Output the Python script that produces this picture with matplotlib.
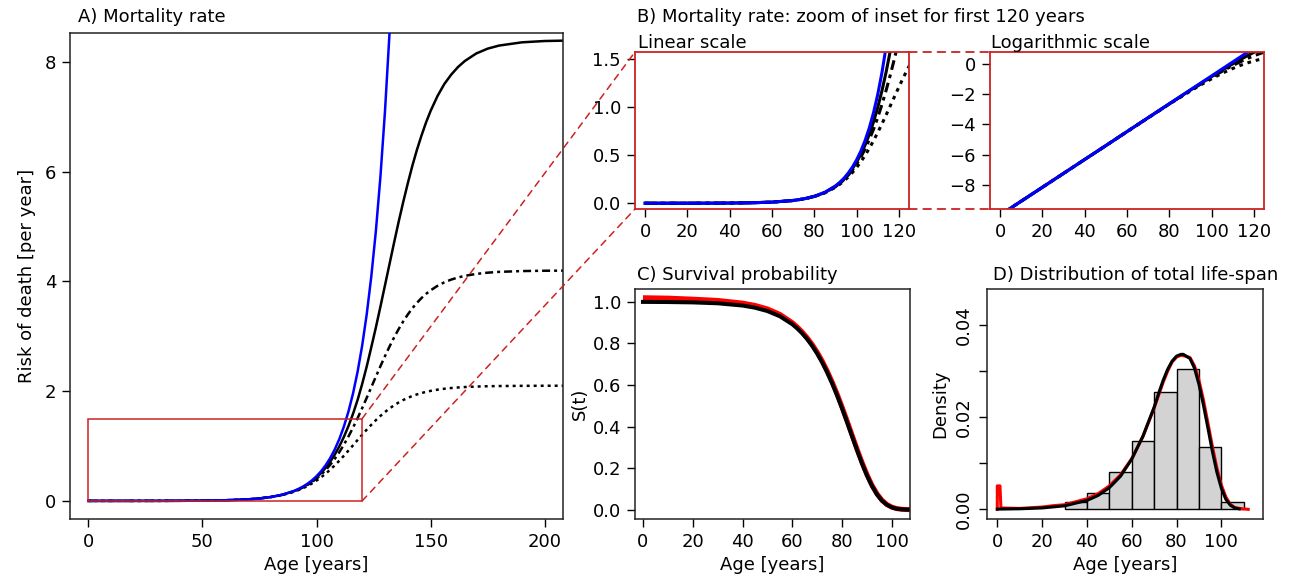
import numpy as np
import matplotlib
matplotlib.use("Agg")
import matplotlib.pyplot as plt
from matplotlib.patches import Rectangle, ConnectionPatch

plt.rcParams['font.family'] = ['DejaVu Sans']
plt.rcParams['font.size'] = 13

# ---------------- data ----------------
ages = [0, 10, 20, 30, 40, 50, 60, 70, 75, 80, 85,
        90, 92, 94, 96, 98, 100, 102, 104, 106, 108, 110, 112, 114, 116, 118,
        120, 122, 124, 126, 128, 130, 132, 134, 136, 138, 140, 142, 144, 146,
        148, 150, 153, 156, 159, 162, 165, 170, 175, 180, 190, 200, 210]

ages_gompertz = [0, 10, 20, 30, 40, 50, 60, 70, 75, 80, 85,
                 90, 92, 94, 96, 98, 100, 102, 104, 106, 108, 110, 112, 114,
                 116, 118, 120, 122, 124, 126, 128, 130, 132, 134]
mu_gompertz = [0.0000454, 0.000114, 0.000285, 0.000714, 0.00179, 0.00448,
               0.0113, 0.0284, 0.0450, 0.0714, 0.1130,
               0.1791, 0.2153, 0.2587, 0.3110, 0.3738, 0.4493, 0.5401, 0.6492,
               0.7804, 0.9380, 1.1275, 1.3553, 1.6291, 1.9582, 2.3537, 2.8292,
               3.4008, 4.0877, 4.9134, 5.906, 7.099, 8.533, 10.257]

mu_plateau_high = [0.0000454, 0.000114, 0.000285, 0.000714, 0.00179, 0.00448,
                   0.0113, 0.0283, 0.0448, 0.0708, 0.1115,
                   0.1754, 0.2099, 0.2510, 0.2999, 0.3579, 0.4265, 0.5075,
                   0.6026, 0.7141, 0.8438, 0.9941, 1.167, 1.3645, 1.588, 1.84,
                   2.13, 2.45, 2.8, 3.16, 3.54, 3.93, 4.32, 4.71, 5.09, 5.45,
                   5.79, 6.11, 6.4, 6.66, 6.9, 7.11,
                   7.38, 7.6, 7.77, 7.91, 8.02, 8.157, 8.245, 8.301, 8.36,
                   8.384, 8.392]

mu_plateau_mid = [0.0000454, 0.000114, 0.000285, 0.000714, 0.00179, 0.00447,
                  0.0113, 0.0282, 0.0445, 0.0702, 0.1100,
                  0.1718, 0.2048, 0.2437, 0.2896, 0.3433, 0.4059, 0.4786,
                  0.5623, 0.6581, 0.7668, 0.8889, 1.0247, 1.1738, 1.3356,
                  1.5084, 1.6905, 1.8792, 2.0715, 2.2644, 2.4545, 2.6388,
                  2.8146, 2.9798, 3.1328, 3.2726, 3.3985, 3.5112, 3.6108,
                  3.698, 3.7738, 3.8393,
                  3.9204, 3.9844, 4.0344, 4.0731, 4.103, 4.1383, 4.1608,
                  4.1752, 4.19, 4.196, 4.198]

mu_plateau_low = [0.0000454, 0.000114, 0.000285, 0.000714, 0.00179, 0.00447,
                  0.0112, 0.0280, 0.0440, 0.0691, 0.1072,
                  0.1650, 0.1953, 0.2303, 0.2709, 0.3173, 0.3701, 0.4296,
                  0.4959, 0.5690, 0.6484, 0.7336, 0.8237, 0.9174, 1.0133,
                  1.1098, 1.2053, 1.2983, 1.3873, 1.4712, 1.5491, 1.6206,
                  1.6853, 1.7431, 1.7943, 1.8393, 1.8785, 1.9124, 1.9416,
                  1.9665, 1.9878, 2.0058,
                  2.0277, 2.0447, 2.0578, 2.0678, 2.0755, 2.0844, 2.0902,
                  2.0938, 2.0975, 2.099, 2.0995]

surv_ages = [0, 10, 20, 30, 40, 45, 50, 55,
             60, 62, 64, 66, 68, 70, 72, 74, 76, 78, 80, 82, 84, 86, 88, 90,
             92, 94, 96, 98, 100, 102, 104, 106, 108]
surv_model = [1.0, 0.9993, 0.9976, 0.9933, 0.9824, 0.9721, 0.9559, 0.9308,
              0.8924, 0.8721, 0.8482, 0.8204, 0.7881, 0.7510, 0.7088, 0.6611,
              0.6081, 0.5499, 0.4872, 0.4213, 0.3538, 0.2868, 0.2228, 0.1645,
              0.1142, 0.0737, 0.0435, 0.0231, 0.0108, 0.0043, 0.0014, 0.0004,
              0.0001]
surv_empirical = [1.02, 1.018, 1.013, 1.007, 0.994, 0.983, 0.966, 0.94,
                  0.900, 0.879, 0.855, 0.827, 0.795, 0.758, 0.716, 0.668,
                  0.615, 0.557, 0.494, 0.428, 0.360, 0.292, 0.228, 0.169,
                  0.118, 0.077, 0.046, 0.025, 0.012, 0.005, 0.0018, 0.0005,
                  0.0001]

hist_edges = [30, 40, 50, 60, 70, 80, 90, 100, 110]
hist_density = [0.0017, 0.0035, 0.0082, 0.0149, 0.0254, 0.0304, 0.0135, 0.0017]

dens_ages = [0, 10, 20, 30, 40, 45, 50, 55, 60, 65, 70, 72, 74, 76, 78, 80,
             82, 83, 84, 86, 88, 90, 92, 94, 96, 98, 100, 102, 104, 106, 108]
dens_model = [0.00005, 0.00012, 0.0003, 0.00076, 0.00193, 0.00302, 0.0047,
              0.0072, 0.0109, 0.0159, 0.0222, 0.0252, 0.0280, 0.0304, 0.0322,
              0.0333, 0.0337, 0.0337, 0.0334, 0.0328, 0.0307, 0.0272, 0.0227,
              0.0177, 0.0126, 0.0081, 0.0046, 0.0022, 0.0009, 0.0003, 0.0001]

emp_ages = [0, 0, 1.2, 1.6, 10, 20, 25, 30, 40, 45, 50, 55, 60, 65, 70, 72,
            74, 76, 78, 80, 82, 84, 86, 88, 90, 92, 94, 96, 98, 100, 102, 104,
            106, 108, 110, 112]
emp_density = [0.0, 0.0051, 0.0051, 0.0003, 0.0002, 0.0005, 0.0008, 0.0010,
               0.0023, 0.0034, 0.0051, 0.0075, 0.0110, 0.0158, 0.0220, 0.0248,
               0.0276, 0.0300, 0.0320, 0.0331, 0.0335, 0.0333, 0.0330, 0.0312,
               0.0281, 0.0238, 0.0188, 0.0137, 0.0090, 0.0053, 0.0027, 0.0011,
               0.0004, 0.0002, 0.0001, 0.0]

# ---------------- layout ----------------
W, H = 1295, 576
fig = plt.figure(figsize=(W / 100, H / 100), dpi=100)

def box(l, r, t, b):
    return [l / W, 1 - b / H, (r - l) / W, (b - t) / H]

RED = '#CC2222'
BLUE = '#0000FF'
DOT = (0, (1.2, 1.6))
DASHDOT = (0, (3.2, 1.6, 1.2, 1.6))

axA = fig.add_axes(box(70, 563, 33, 519))
axL = fig.add_axes(box(635, 909, 52, 209))
axG = fig.add_axes(box(990, 1264, 52, 209))
axC = fig.add_axes(box(635, 910, 289, 519))
axD = fig.add_axes(box(987, 1263, 289, 519))

for ax in (axA, axL, axG, axC, axD):
    ax.tick_params(direction='out', length=6, width=1, pad=4, labelsize=13)
    for s in ax.spines.values():
        s.set_linewidth(1.1)
        s.set_color('#222222')

# ---------------- A ----------------
lwA = 1.8
axA.plot(ages_gompertz, mu_gompertz, color=BLUE, lw=lwA, zorder=4)
axA.plot(ages, mu_plateau_high, color='black', lw=lwA)
axA.plot(ages, mu_plateau_mid, color='black', lw=lwA, linestyle=DASHDOT)
axA.plot(ages, mu_plateau_low, color='black', lw=lwA, linestyle=DOT)
axA.add_patch(Rectangle((0, 0), 120, 1.5, fill=False, edgecolor=RED, lw=1.1, zorder=5))
axA.set_xlim(-8, 208)
axA.set_ylim(-0.33, 8.53)
axA.set_xticks([0, 50, 100, 150, 200])
axA.set_yticks([0, 2, 4, 6, 8])
axA.set_xlabel('Age [years]', fontsize=13, labelpad=4)
axA.set_ylabel('Risk of death [per year]', fontsize=13, labelpad=6)

# ---------------- B linear ----------------
lwB = 2.2
axL.plot(ages, mu_plateau_low, color='black', lw=lwB, linestyle=DOT)
axL.plot(ages, mu_plateau_mid, color='black', lw=lwB, linestyle=DASHDOT)
axL.plot(ages, mu_plateau_high, color='black', lw=lwB)
axL.plot(ages_gompertz, mu_gompertz, color=BLUE, lw=lwB)
axL.set_xlim(-4.8, 124.8)
axL.set_ylim(-0.06, 1.57)
axL.set_xticks([0, 20, 40, 60, 80, 100, 120])
axL.set_yticks([0.0, 0.5, 1.0, 1.5])
axL.set_yticklabels(['0.0', '0.5', '1.0', '1.5'])

# ---------------- B log ----------------
axG.plot(ages, np.log(mu_plateau_low), color='black', lw=lwB, linestyle=DOT)
axG.plot(ages, np.log(mu_plateau_mid), color='black', lw=lwB, linestyle=DASHDOT)
axG.plot(ages, np.log(mu_plateau_high), color='black', lw=lwB)
axG.plot(ages_gompertz, np.log(mu_gompertz), color=BLUE, lw=lwB)
axG.set_xlim(-4.8, 124.8)
axG.set_ylim(-9.6, 0.78)
axG.set_xticks([0, 20, 40, 60, 80, 100, 120])
axG.set_yticks([0, -2, -4, -6, -8])

for ax in (axL, axG):
    for s in ax.spines.values():
        s.set_color(RED)
        s.set_linewidth(1.3)

# ---------------- C ----------------
axC.plot(surv_ages, surv_empirical, color='red', lw=3.6, solid_capstyle='butt')
axC.plot(surv_ages, surv_model, color='black', lw=2.9)
axC.set_xlim(-3.2, 107.3)
axC.set_ylim(-0.045, 1.062)
axC.set_xticks([0, 20, 40, 60, 80, 100])
axC.set_yticks([0.0, 0.2, 0.4, 0.6, 0.8, 1.0])
axC.set_yticklabels(['0.0', '0.2', '0.4', '0.6', '0.8', '1.0'])
axC.set_xlabel('Age [years]', fontsize=13, labelpad=4)
axC.set_ylabel('S(t)', fontsize=13, labelpad=3)

# ---------------- D ----------------
widths = np.diff(hist_edges)
axD.bar(hist_edges[:-1], hist_density, width=widths, align='edge',
        color='#D3D3D3', edgecolor='black', linewidth=1.0)
axD.plot(emp_ages, emp_density, color='red', lw=2.2)
axD.plot(dens_ages, dens_model, color='black', lw=2.2)
axD.set_xlim(-4.6, 118.6)
axD.set_ylim(-0.0021, 0.0479)
axD.set_xticks([0, 20, 40, 60, 80, 100])
axD.set_yticks([0.0, 0.01, 0.02, 0.03, 0.04])
axD.set_yticklabels(['0.00', '', '0.02', '', '0.04'], rotation=90, va='center')
axD.set_xlabel('Age [years]', fontsize=13, labelpad=4)
axD.set_ylabel('Density', fontsize=13, labelpad=4)

# ---------------- connection lines ----------------
dash = (0, (4.3, 3.6))
for xyA, xyB in (((120, 1.5), (0, 1)), ((120, 0), (0, 0))):
    cp = ConnectionPatch(xyA=xyA, coordsA=axA.transData, xyB=xyB,
                         coordsB=axL.transAxes, color=RED, lw=1.1,
                         linestyle=dash)
    fig.add_artist(cp)
for y in (1, 0):
    cp = ConnectionPatch(xyA=(1, y), coordsA=axL.transAxes, xyB=(0, y),
                         coordsB=axG.transAxes, color=RED, lw=1.3,
                         linestyle=dash)
    fig.add_artist(cp)

# ---------------- titles ----------------
def ftext(x, y, s):
    fig.text(x / W, 1 - y / H, s, ha='left', va='center', fontsize=13)

ftext(78, 17, 'A) Mortality rate')
ftext(637, 17, 'B) Mortality rate: zoom of inset for first 120 years')
ftext(638, 43, 'Linear scale')
ftext(991, 43, 'Logarithmic scale')
ftext(637, 275, 'C) Survival probability')
ftext(993, 275, 'D) Distribution of total life-span')

fig.savefig('out.png', dpi=100)
